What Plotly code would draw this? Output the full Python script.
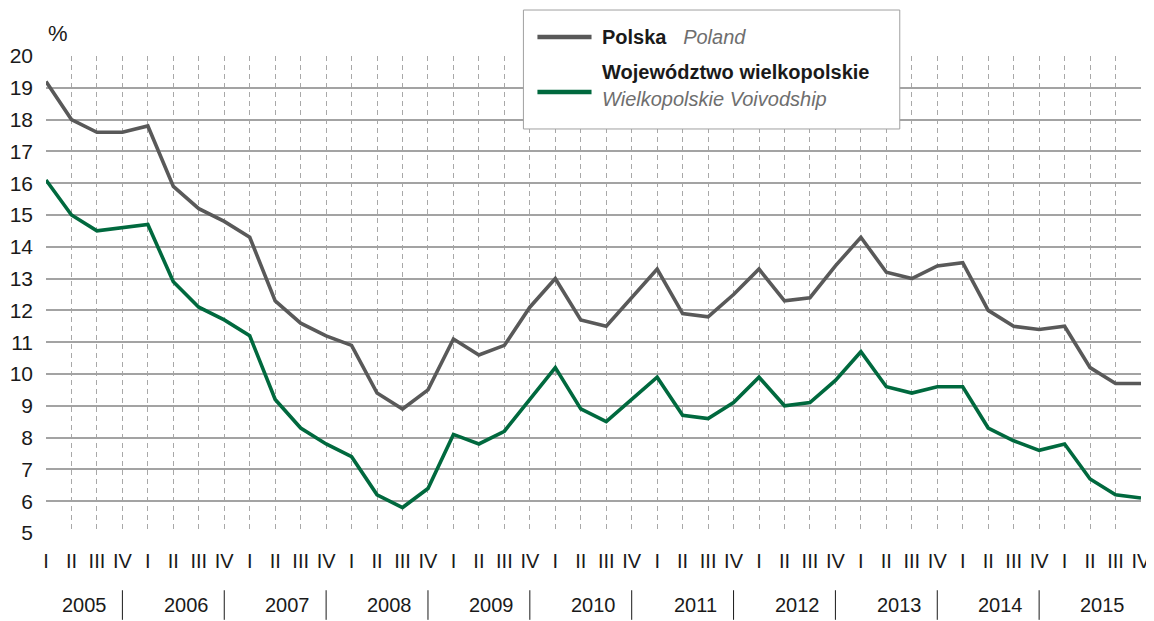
import plotly.graph_objects as go

# Unemployment rate, quarterly 2005 I - 2015 IV (%)
years = [str(y) for y in range(2005, 2016)]
quarters = ["I", "II", "III", "IV"]

poland = [
    19.2, 18.0, 17.6, 17.6,
    17.8, 15.9, 15.2, 14.8,
    14.3, 12.3, 11.6, 11.2,
    10.9, 9.4, 8.9, 9.5,
    11.1, 10.6, 10.9, 12.1,
    13.0, 11.7, 11.5, 12.4,
    13.3, 11.9, 11.8, 12.5,
    13.3, 12.3, 12.4, 13.4,
    14.3, 13.2, 13.0, 13.4,
    13.5, 12.0, 11.5, 11.4,
    11.5, 10.2, 9.7, 9.7,
]

wielkopolskie = [
    16.1, 15.0, 14.5, 14.6,
    14.7, 12.9, 12.1, 11.7,
    11.2, 9.2, 8.3, 7.8,
    7.4, 6.2, 5.8, 6.4,
    8.1, 7.8, 8.2, 9.2,
    10.2, 8.9, 8.5, 9.2,
    9.9, 8.7, 8.6, 9.1,
    9.9, 9.0, 9.1, 9.8,
    10.7, 9.6, 9.4, 9.6,
    9.6, 8.3, 7.9, 7.6,
    7.8, 6.7, 6.2, 6.1,
]

GRAY = "#595959"
GREEN = "#00693e"
FONT = "Liberation Sans Narrow, Arial Narrow, Liberation Sans, Arial"

x = list(range(len(poland)))
quarter_labels = quarters * len(years)

fig = go.Figure()
fig.add_trace(go.Scatter(x=x, y=poland, mode="lines", name="Polska",
                         line=dict(color=GRAY, width=3.6)))
fig.add_trace(go.Scatter(x=x, y=wielkopolskie, mode="lines", name="Województwo wielkopolskie",
                         line=dict(color=GREEN, width=3.6)))

fig.update_xaxes(
    range=[0, len(x) - 1], automargin=False,
    tickmode="array", tickvals=x, ticktext=quarter_labels,
    showgrid=True, gridcolor="#a8a8a8", gridwidth=1, griddash="5px,4px",
    zeroline=False, showline=False, ticks="",
    ticklabelstandoff=14,
    tickfont=dict(family=FONT, size=20, color="#1a1a1a"),
)
fig.update_yaxes(
    range=[5, 20], dtick=1, tick0=5, automargin=False,
    showgrid=True, gridcolor="#a3a3a3", gridwidth=1.5,
    zeroline=False, showline=False, ticks="",
    ticklabelstandoff=12,
    tickfont=dict(family=FONT, size=21, color="#1a1a1a"),
)

annotations = []
shapes = []

# year labels and separators below the quarter labels
for i, yr in enumerate(years):
    annotations.append(dict(x=4 * i + 1.5, y=-0.151, xref="x", yref="paper",
                            text=yr, showarrow=False, xanchor="center", yanchor="middle",
                            font=dict(family=FONT, size=20, color="#1a1a1a")))
    if i < len(years) - 1:
        shapes.append(dict(type="line", xref="x", yref="paper",
                           x0=4 * i + 3, x1=4 * i + 3, y0=-0.12, y1=-0.182,
                           line=dict(color="#1a1a1a", width=1)))

# unit label
annotations.append(dict(x=0, y=1.048, xref="paper", yref="paper", text="%",
                        showarrow=False, xanchor="left", yanchor="middle",
                        font=dict(family=FONT, size=22, color="#1a1a1a")))

# legend box
shapes.append(dict(type="rect", xref="paper", yref="paper",
                   x0=0.436, x1=0.7797, y0=0.847, y1=1.0964,
                   fillcolor="white", line=dict(color="#a0a0a0", width=1), layer="above"))
shapes.append(dict(type="line", xref="paper", yref="paper",
                   x0=0.4488, x1=0.4982, y0=1.0398, y1=1.0398,
                   line=dict(color=GRAY, width=4.5), layer="above"))
shapes.append(dict(type="line", xref="paper", yref="paper",
                   x0=0.4488, x1=0.4982, y0=0.9245, y1=0.9245,
                   line=dict(color=GREEN, width=4.5), layer="above"))

legend_texts = [
    ("<b>Polska</b>   <span style='color:#6e6e6e'><i>Poland</i></span>", 1.0398),
    ("<b>Województwo wielkopolskie</b>", 0.9665),
    ("<span style='color:#6e6e6e'><i>Wielkopolskie Voivodship</i></span>", 0.9098),
]
for txt, yy in legend_texts:
    annotations.append(dict(x=0.5055, y=yy, xref="paper", yref="paper", text=txt,
                            showarrow=False, xanchor="left", yanchor="middle",
                            font=dict(family=FONT, size=20, color="#1a1a1a")))

# page body adds an 8px margin, so the figure is sized to fit inside the window
fig.update_layout(
    width=1146, height=613,
    margin=dict(l=38, r=13, t=48, b=88),
    plot_bgcolor="white", paper_bgcolor="white",
    showlegend=False,
    annotations=annotations,
    shapes=shapes,
)

fig.write_html("out.html")
